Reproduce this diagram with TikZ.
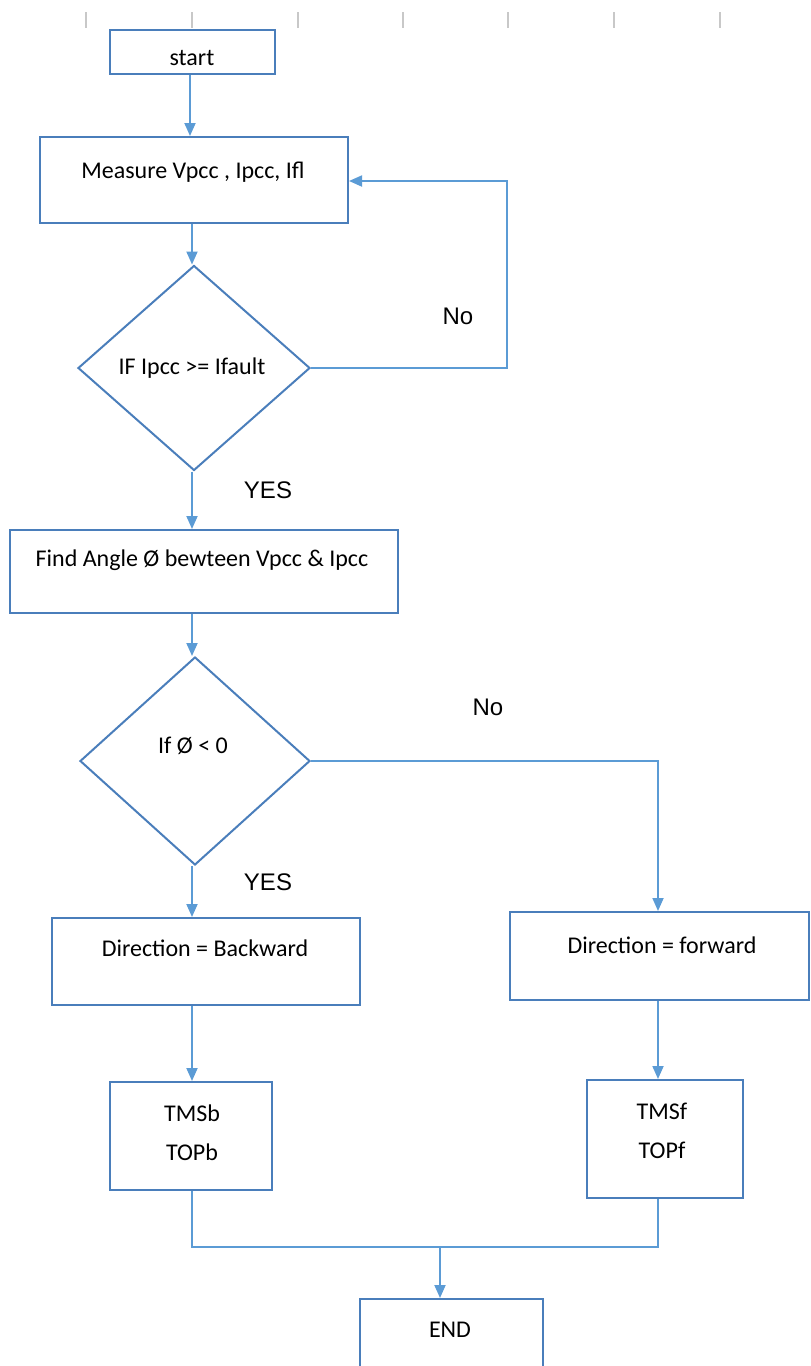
\documentclass[tikz,border=0pt]{standalone}
\usepackage{fontspec}
\setmainfont{Carlito}
\newfontfamily\labfont{Liberation Sans}
\usetikzlibrary{arrows.meta,shapes.geometric}
\definecolor{boxc}{RGB}{74,126,187}
\definecolor{arrc}{RGB}{91,155,213}
\definecolor{tickc}{RGB}{200,200,200}
\tikzset{
  box/.style={draw=boxc,line width=2pt,rectangle,inner sep=0pt},
  dia/.style={draw=boxc,line width=2pt,diamond,inner sep=0pt,shape aspect=1.13},
  txt/.style={inner sep=0pt,font=\fontsize{24}{39}\selectfont,align=center},
  lab/.style={inner sep=0pt,font=\labfont\fontsize{24}{28}\selectfont},
  conn/.style={draw=arrc,line width=1.8pt},
  arr/.style={conn,-{Triangle[length=13pt,width=11pt]}},
  tickmark/.style={draw=tickc,line width=1.5pt}
}
\begin{document}
\begin{tikzpicture}[x=1pt,y=-1pt]
\useasboundingbox (0,0) rectangle (811,1366);
\clip (0,0) rectangle (811,1366);
\foreach \x in {86,192,298,403,508,614,720} \draw[tickmark] (\x,12) -- (\x,28);
% boxes
\node[box,minimum width=165pt,minimum height=44pt] (start) at (192.5,52) {};
\node[txt] (tstart) at (192,58) {start};
\node[box,minimum width=308pt,minimum height=86pt] (measure) at (194,180) {};
\node[txt] (tmeasure) at (193,172) {Measure Vpcc , Ipcc, Ifl};
\node[dia,minimum width=232pt,minimum height=205pt] (d1) at (194,368) {};
\node[txt] (td1) at (192,368) {IF Ipcc >= Ifault};
\node[box,minimum width=388pt,minimum height=83pt] (find) at (204,571.5) {};
\node[txt] (tfind) at (202,560) {Find Angle Ø bewteen Vpcc \& Ipcc};
\node[dia,minimum width=230pt,minimum height=208pt] (d2) at (195,761) {};
\node[txt] (td2) at (193,746) {If Ø < 0};
\node[box,minimum width=308pt,minimum height=87pt] (back) at (206,961.5) {};
\node[txt] (tback) at (205,948) {Direction = Backward};
\node[box,minimum width=299pt,minimum height=88pt] (fwd) at (659.5,956) {};
\node[txt] (tfwd) at (662,945) {Direction = forward};
\node[box,minimum width=162pt,minimum height=108pt] (tmsb) at (191,1136) {};
\node[txt] (ttmsb) at (192,1133) {TMSb\\TOPb};
\node[box,minimum width=156pt,minimum height=118pt] (tmsf) at (665,1139) {};
\node[txt] (ttmsf) at (662,1131) {TMSf\\TOPf};
\node[box,minimum width=183pt,minimum height=90pt] (end) at (451.5,1344) {};
\node[txt] (tend) at (450,1330) {END};
% labels
\node[lab] (no1) at (458,316) {No};
\node[lab] (yes1) at (268,490) {YES};
\node[lab] (no2) at (488,707) {No};
\node[lab] (yes2) at (268,882) {YES};
% connectors
\coordinate (c1) at (190,0);
\draw[arr] (start.south -| c1) -- (measure.north -| c1);
\coordinate (c2) at (192,0);
\draw[arr] (measure.south -| c2) -- (d1.north -| c2);
\coordinate (n1) at (507,181);
\draw[arr] (d1.east) -| (n1) -- (measure.east |- n1);
\draw[arr] (d1.south -| c2) -- (find.north -| c2);
\draw[arr] (find.south -| c2) -- (d2.north -| c2);
\coordinate (c3) at (658,0);
\draw[arr] (d2.east) -| (fwd.north -| c3);
\draw[arr] (d2.south -| c2) -- (back.north -| c2);
\draw[arr] (back.south -| c2) -- (tmsb.north -| c2);
\draw[arr] (fwd.south -| c3) -- (tmsf.north -| c3);
\coordinate (m2) at (658,1247);
\draw[conn] (tmsb.south -| c2) |- (m2) -- (tmsf.south -| c3);
\coordinate (j) at (440,1247);
\draw[arr] (j) -- (end.north -| j);
\end{tikzpicture}
\end{document}
